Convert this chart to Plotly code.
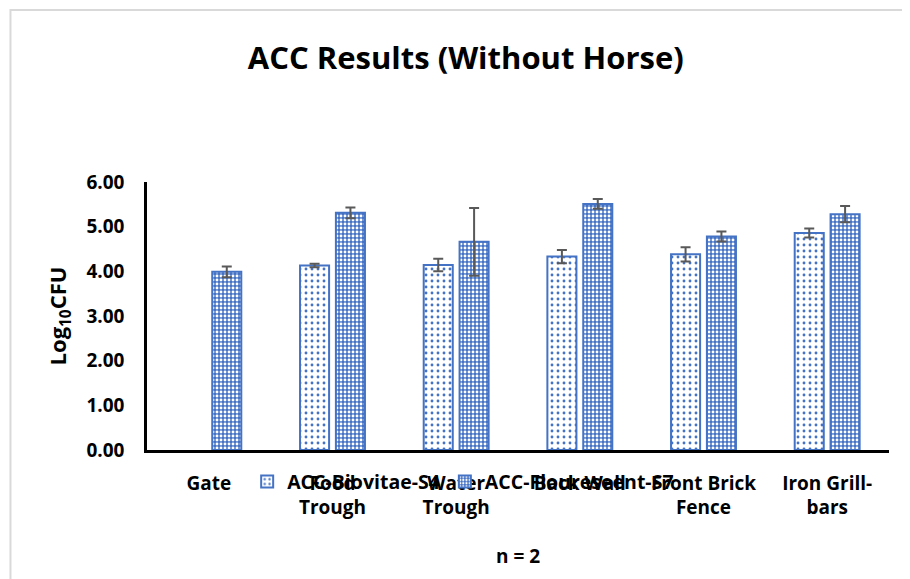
import plotly.graph_objects as go

categories = ["Gate", "Food<br>Trough", "Water<br>Trough", "Back Wall", "Front Brick<br>Fence", "Iron Grill-<br>bars"]
s4_values = [None, 4.13, 4.14, 4.33, 4.38, 4.86]
s4_errors = [None, 0.04, 0.14, 0.15, 0.16, 0.10]
s7_values = [3.99, 5.31, 4.66, 5.51, 4.78, 5.28]
s7_errors = [0.12, 0.12, 0.76, 0.11, 0.11, 0.18]
y_ticks = [0, 1, 2, 3, 4, 5, 6]

BLUE = "#4472C4"
FONT = "Open Sans"

fig = go.Figure()
fig.add_trace(go.Bar(
    name="ACC-Biovitae-S4", x=categories, y=s4_values,
    error_y=dict(type="data", array=s4_errors, color="#595959", thickness=2, width=5),
    marker=dict(color="white", line=dict(color=BLUE, width=2),
                pattern=dict(shape=".", fgcolor=BLUE, bgcolor="white", size=6, solidity=0.18, fillmode="replace")),
))
fig.add_trace(go.Bar(
    name="ACC-Floureseent-S7", x=categories, y=s7_values,
    error_y=dict(type="data", array=s7_errors, color="#595959", thickness=2, width=5),
    marker=dict(color=BLUE, line=dict(color=BLUE, width=2),
                pattern=dict(shape=".", fgcolor="white", bgcolor=BLUE, size=4, solidity=0.4, fillmode="replace")),
))

fig.update_layout(
    width=910, height=579,
    margin=dict(l=139, r=29, t=174, b=137),
    paper_bgcolor="white", plot_bgcolor="white",
    font=dict(family=FONT, size=19, color="black"),
    title=dict(text="<b>ACC Results (Without Horse)</b>", x=0.503, xanchor="center",
               y=0.913, yanchor="middle", font=dict(family=FONT, size=31, color="black")),
    barmode="group", bargap=0.42, bargroupgap=0.19,
    showlegend=True,
    legend=dict(orientation="h", x=0.135, xanchor="left", y=-0.119, yanchor="middle",
                font=dict(family=FONT, size=19.5, color="black", weight="bold"),
                bgcolor="rgba(0,0,0,0)", traceorder="normal"),
    xaxis=dict(showline=True, linecolor="black", linewidth=2.5, ticks="", showgrid=False,
               tickfont=dict(family=FONT, size=19, color="black", weight="bold"), ticklabelstandoff=14,
               title=dict(text="<b>n = 2</b>", font=dict(family=FONT, size=19, color="black"), standoff=31)),
    yaxis=dict(range=[0, 6], tickvals=y_ticks, tickformat=".2f", showline=True, linecolor="black",
               linewidth=2.5, ticks="", showgrid=False, zeroline=False,
               tickfont=dict(family=FONT, size=19, color="black", weight="bold"), ticklabelstandoff=16,
               title=dict(text="<b>Log<sub>10</sub>CFU</b>", font=dict(family=FONT, size=22, color="black"), standoff=14)),
    shapes=[dict(type="rect", xref="paper", yref="paper", x0=-0.184, x1=1.06, y0=-0.55, y1=1.642,
                 line=dict(color="#D9D9D9", width=2), fillcolor="rgba(0,0,0,0)", layer="below")],
)

fig.write_html("out.html")
